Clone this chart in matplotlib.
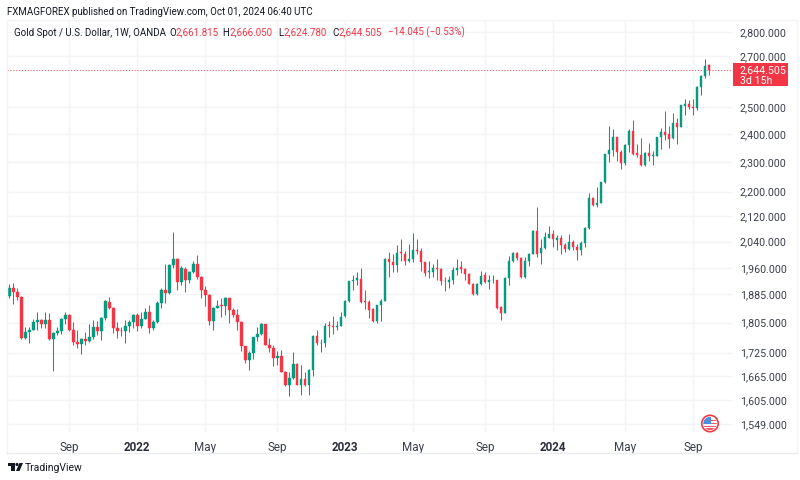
# gold weekly candles, tradingview style
import matplotlib
matplotlib.use("Agg")
import matplotlib.pyplot as plt
from matplotlib.patches import Circle, Rectangle, Polygon
from matplotlib.transforms import ScaledTranslation
import numpy as np

plt.rcParams['font.family'] = ['Roboto', 'DejaVu Sans']

opens = [1880,1903,1890,1876,1763,1779,1785,1806,1811,1800,
         1812,1761,1778,1781,1816,1827,1785,1754,1748,1760,
         1756,1766,1792,1782,1817,1863,1844,1791,1782,1781,
         1796,1807,1827,1795,1816,1834,1789,1807,1859,1896,
         1888,1970,1988,1919,1958,1925,1947,1972,1933,1896,
         1882,1809,1846,1853,1851,1872,1839,1826,1807,1741,
         1705,1725,1765,1773,1801,1745,1736,1712,1717,1676,
         1643,1660,1695,1643,1657,1642,1679,1769,1749,1751,
         1798,1797,1794,1797,1822,1864,1921,1926,1927,1866,
         1863,1842,1808,1853,1866,1988,1979,1969,2007,2003,
         1981,1987,2015,2010,1977,1948,1947,1959,1956,1923,
         1920,1925,1954,1962,1958,1942,1914,1885,1914,1939,
         1920,1924,1925,1848,1832,1931,1980,2005,1991,1934,
         1980,2002,2072,2004,2019,2052,2062,2045,2050,2029,
         2017,2039,2024,2013,2035,2082,2178,2155,2163,2231,
         2327,2342,2389,2336,2297,2359,2412,2331,2324,2290,
         2331,2320,2322,2388,2409,2400,2384,2439,2425,2504,
         2510,2499,2495,2578,2621,2661.815]

closes = [1902,1890,1876,1763,1780,1785,1806,1811,1800,1812,
          1761,1778,1781,1816,1827,1785,1754,1748,1760,1756,
          1766,1792,1782,1817,1864,1844,1791,1782,1781,1796,
          1807,1827,1795,1816,1834,1789,1807,1859,1897,1888,
          1970,1988,1919,1960,1925,1947,1972,1933,1896,1882,
          1809,1846,1852,1851,1872,1839,1826,1807,1741,1705,
          1725,1765,1773,1802,1745,1736,1712,1717,1676,1642,
          1660,1695,1643,1657,1642,1679,1770,1749,1751,1796,
          1795,1794,1797,1821,1864,1921,1925,1930,1863,1863,
          1840,1809,1853,1866,1988,1977,1969,2006,2004,1981,
          1987,2015,2010,1977,1944,1950,1961,1957,1921,1921,
          1925,1954,1961,1958,1942,1914,1885,1914,1938,1919,
          1924,1925,1846,1832,1931,1980,2005,1991,1934,1980,
          2002,2072,2001,2019,2053,2062,2048,2050,2029,2017,
          2038,2024,2013,2035,2082,2178,2155,2163,2231,2327,
          2342,2389,2336,2297,2359,2412,2330,2324,2290,2331,
          2320,2324,2388,2409,2398,2383,2439,2427,2506,2510,
          2498,2495,2578,2621,2658,2644.505]

highs = [1912,1915,1902,1878,1794,1794,1816,1833,1816,1833,
         1831,1780,1794,1818,1833,1829,1807,1785,1763,1780,
         1800,1811,1809,1820,1868,1876,1848,1807,1794,1811,
         1811,1829,1830,1835,1846,1854,1812,1865,1901,1973,
         1972,2070,1989,1965,1962,1950,1982,1999,1936,1908,
         1885,1849,1869,1872,1875,1874,1846,1842,1810,1743,
         1729,1767,1794,1804,1802,1764,1745,1730,1732,1677,
         1676,1727,1699,1692,1674,1683,1771,1785,1762,1805,
         1809,1824,1809,1834,1867,1923,1939,1949,1959,1895,
         1867,1845,1854,1870,1989,2008,2003,2030,2049,2010,
         2034,2066,2049,2020,1979,1982,1971,1987,1959,1934,
         1936,1964,1987,1981,1961,1945,1916,1916,1951,1947,
         1939,1939,1926,1850,1934,1996,2008,2008,1993,1993,
         2006,2075,2149,2048,2070,2089,2075,2060,2060,2037,
         2065,2044,2034,2041,2084,2194,2182,2216,2233,2328,
         2429,2417,2390,2341,2363,2419,2451,2363,2386,2336,
         2367,2339,2390,2423,2483,2429,2479,2457,2509,2529,
         2527,2529,2581,2624,2686,2666.05]

lows = [1874,1856,1869,1761,1761,1749,1784,1784,1789,1789,
        1759,1677,1771,1775,1801,1782,1744,1737,1721,1746,
        1752,1761,1771,1759,1811,1842,1776,1763,1769,1751,
        1780,1791,1782,1791,1814,1778,1785,1804,1844,1860,
        1886,1959,1896,1910,1889,1915,1945,1928,1872,1852,
        1798,1785,1844,1820,1825,1804,1821,1784,1730,1697,
        1679,1709,1755,1771,1744,1726,1690,1692,1675,1640,
        1616,1658,1642,1618,1640,1618,1664,1746,1727,1740,
        1767,1773,1784,1795,1820,1862,1897,1911,1860,1843,
        1818,1807,1804,1809,1864,1935,1947,1949,1981,1969,
        1977,1979,2003,1951,1937,1931,1934,1925,1910,1893,
        1902,1913,1939,1944,1924,1913,1883,1883,1911,1916,
        1900,1916,1843,1811,1831,1910,1979,1983,1931,1931,
        1966,2001,1993,1973,2017,2050,2024,2013,2001,2008,
        2015,2014,1983,1998,2024,2080,2152,2150,2162,2229,
        2302,2322,2305,2276,2290,2334,2324,2318,2288,2288,
        2305,2291,2320,2347,2378,2350,2381,2363,2424,2470,
        2494,2470,2488,2547,2612,2624.78]

price_ticks = [2800, 2700, 2500, 2400, 2300, 2200, 2120, 2040, 1960,
               1885, 1805, 1725, 1665, 1605, 1549]
week_ticks = [15, 32, 49, 67, 84, 101, 119, 136, 154, 171]
week_labels = ['Sep', '2022', 'May', 'Sep', '2023', 'May', 'Sep', '2024', 'May', 'Sep']
last_price = 2644.505

GREEN = '#089981'
RED = '#F23645'
GRID = '#F3F4F7'
TEXT = '#131722'
AXIS_TEXT = '#3A3E4A'

W, H = 800, 481
fig = plt.figure(figsize=(8, 4.81), dpi=100, facecolor='white')

# overlay in pixel coords for frame, header, flag and logo
over = fig.add_axes([0, 0, 1, 1], zorder=3)
over.set_xlim(0, W)
over.set_ylim(H, 0)
over.axis('off')
over.patch.set_alpha(0)

# chart area, x 7-732 and y 21-433 in pixels
ax = fig.add_axes([7 / W, 1 - 433 / H, 725 / W, 412 / H], zorder=1)
ax.set_yscale('log')
ax.set_ylim(1530, 2851)
ax.set_xlim(-0.575, 180.7)

x = np.arange(len(opens))
o = np.array(opens)
c = np.array(closes)
colors = [GREEN if c[i] >= o[i] else RED for i in x]

ax.vlines(x, lows, highs, colors=colors, linewidth=0.75, zorder=3)
body_low = np.minimum(o, c)
body_high = np.maximum(o, c)
ax.bar(x, body_high - body_low, bottom=body_low, width=0.62, color=colors,
       linewidth=0.3, edgecolor=colors, zorder=4)

ax.axhline(last_price, color=RED, linewidth=0.8, linestyle=(0, (1, 1.6)), alpha=0.8, zorder=2)

ax.set_yticks(price_ticks)
ax.set_yticklabels(['{:,.3f}'.format(p) for p in price_ticks])
ax.yaxis.set_minor_locator(matplotlib.ticker.NullLocator())
ax.yaxis.tick_right()
ax.set_xticks(week_ticks)
ax.set_xticklabels(week_labels)
ax.tick_params(axis='both', length=0, labelsize=8.4, labelcolor=AXIS_TEXT)
ax.tick_params(axis='y', labelsize=7.7, pad=5.6)
ax.tick_params(axis='x', pad=6)
up = ScaledTranslation(0, 0.7 / 72, fig.dpi_scale_trans)
for lab in ax.get_yticklabels():
    lab.set_transform(lab.get_transform() + up)
for lab in ax.get_xticklabels():
    if lab.get_text().startswith('20'):
        lab.set_fontweight('bold')
        lab.set_color('#2A2E39')

ax.grid(True, color=GRID, linewidth=1)
ax.set_axisbelow(True)
for s in ax.spines.values():
    s.set_visible(False)

# outer frame
over.plot([7, 7, 797, 797], [454, 21, 21, 454], color=GRID, lw=1)
over.plot([7, 797], [454, 454], color='#EBECF0', lw=1)

# last price tag
over.add_patch(Rectangle((732.5, 64), 55.5, 23, color=RED, lw=0))
over.text(740, 70.6, '2,644.505', color='white', fontsize=7.7, ha='left', va='center')
over.text(740, 80.8, '3d 15h', color='white', fontsize=7.7, ha='left', va='center')

# header
over.text(7, 12, 'FXMAGFOREX published on TradingView.com, Oct 01, 2024 06:40 UTC',
          color=TEXT, fontsize=7.0, va='center')
over.text(14, 32.5, 'Gold Spot / U.S. Dollar, 1W, OANDA', color=TEXT, fontsize=7.0, va='center')
for px, s in [(169, 'O'), (222, 'H'), (278, 'L'), (332, 'C')]:
    over.text(px, 32.5, s, color=TEXT, fontsize=7.0, va='center')
for px, s in [(176, '2,661.815'), (229, '2,666.050'), (283.5, '2,624.780'),
              (338.5, '2,644.505'), (388, '\u221214.045 (\u22120.53%)')]:
    over.text(px, 32.5, s, color=RED, fontsize=7.0, va='center')

# us flag badge
over.add_patch(Circle((710, 424.5), 8.2, fc='white', ec=RED, lw=1.2, zorder=5))
clip = Circle((710, 424.5), 6.6, transform=over.transData)
for yy in [421.5, 424.5, 427.5, 430]:
    r = Rectangle((702, yy - 0.6), 16, 1.2, color='#E8596A', lw=0, zorder=6)
    over.add_patch(r)
    r.set_clip_path(clip)
canton = Rectangle((703, 417), 8, 8, color='#4A90E2', lw=0, zorder=7)
over.add_patch(canton)
canton.set_clip_path(clip)

# tradingview logo
over.add_patch(Polygon([(8, 464), (15, 464), (15, 472), (11, 472), (11, 467), (8, 467)],
                       color=TEXT, lw=0))
over.add_patch(Circle((17, 465.5), 1.6, color=TEXT, lw=0))
over.add_patch(Polygon([(19.5, 464), (23, 464), (19.5, 472), (16, 472)], color=TEXT, lw=0))
over.text(25, 468, 'TradingView', color=TEXT, fontsize=7.5, va='center')

fig.savefig('out.png', dpi=100)
